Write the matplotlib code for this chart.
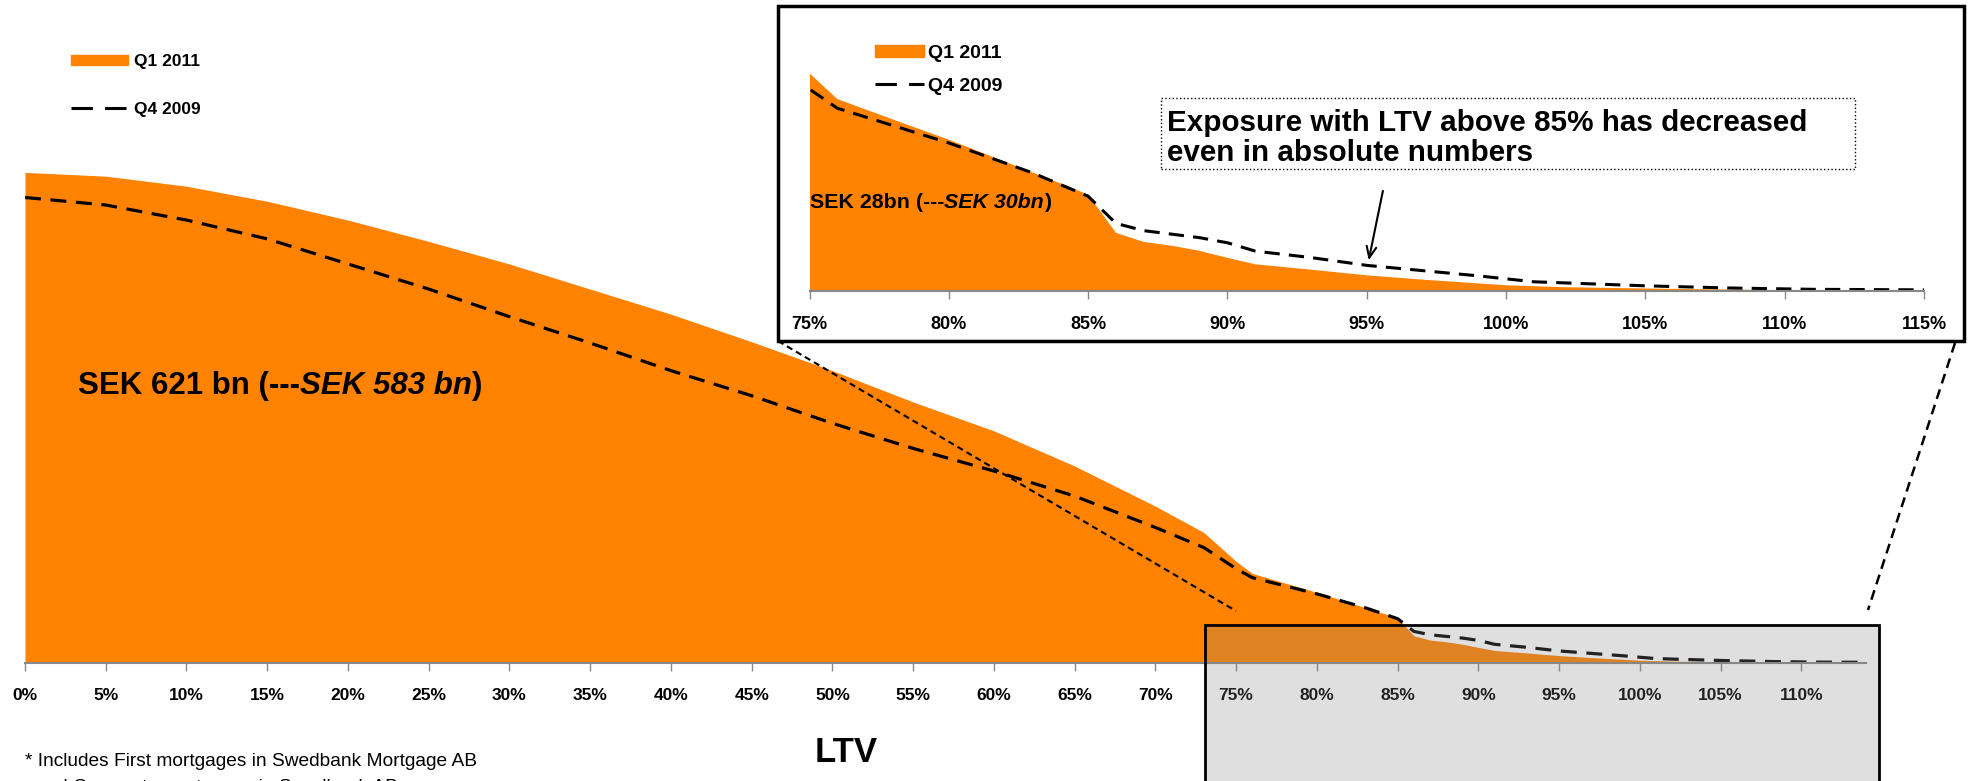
import matplotlib.pyplot as plt
from matplotlib.patches import Rectangle, Patch
from matplotlib.lines import Line2D

plt.rcParams['font.family'] = ['Liberation Sans', 'DejaVu Sans']

# LTV buckets (%) and exposure (relative units)
ltv_q1 = [0, 5, 10, 15, 20, 25, 30, 35, 40, 45, 50, 55, 60, 65, 70, 73,
          75, 76, 78, 80, 82, 84, 85, 86, 87, 88, 89, 90, 91, 93, 95, 97,
          100, 102, 105, 108, 110, 115]
exp_q1 = [391, 388, 380, 368, 353, 336, 318, 298, 278, 256, 233, 208, 185, 157, 125, 104,
          81.0, 71.4, 63.8, 56.3, 48.2, 40.1, 35.9, 21.7, 18.3, 16.9, 15.0, 12.4, 10.0, 8.0, 5.9, 4.3,
          2.2, 1.5, 1.0, 0.6, 0.4, 0.0]

ltv_q4 = [0, 5, 10, 15, 20, 25, 30, 35, 40, 45, 50, 55, 60, 65, 70, 73,
          75, 76, 80, 83, 85, 86, 87, 89, 90, 91, 93, 95, 99, 101,
          105, 108, 111, 115]
exp_q4 = [371, 365, 353, 338, 318, 298, 276, 255, 233, 213, 191, 171, 153, 133, 108, 92,
          75.1, 68.0, 55.1, 44.0, 35.3, 25.2, 22.5, 19.9, 18.0, 14.9, 12.5, 9.6, 5.7, 3.5,
          2.0, 1.2, 0.7, 0.5]

main_ticks = list(range(0, 111, 5))
inset_ticks = list(range(75, 116, 5))
series_names = ['Q1 2011', 'Q4 2009']

ORANGE = '#FF8200'
W, H = 1968, 781

fig = plt.figure(figsize=(W / 100, H / 100), dpi=100)

# main chart
ax = fig.add_axes([25 / W, 118 / H, 1841 / W, 527 / H])
ax.set_facecolor('none')
ax.fill_between(ltv_q1, 0, exp_q1, color=ORANGE, lw=0)
ax.plot(ltv_q4, exp_q4, color='black', lw=2.3, dashes=(5, 3))
ax.set_xlim(0, 114)
ax.set_ylim(0, 420)
ax.set_xticks(main_ticks)
ax.set_xticklabels([f'{t}%' for t in main_ticks], fontweight='bold', fontsize=12.5)
ax.tick_params(axis='x', length=6, color='#888888', width=1, pad=12)
ax.set_yticks([])
for s in ['top', 'left', 'right']:
    ax.spines[s].set_visible(False)
ax.spines['bottom'].set_color('#888888')
ax.spines['bottom'].set_linewidth(1.5)

# zoomed chart
axi = fig.add_axes([809.5 / W, 1 - 291.2 / H, 1114.5 / W, 255.6 / H])
axi.set_facecolor('none')
axi.fill_between(ltv_q1, 0, exp_q1, color=ORANGE, lw=0)
axi.plot(ltv_q4, exp_q4, color='black', lw=2.2, dashes=(5, 3))
axi.set_xlim(75, 115)
axi.set_ylim(0, 95)
axi.set_xticks(inset_ticks)
axi.set_xticklabels([f'{t}%' for t in inset_ticks], fontweight='bold', fontsize=13)
axi.tick_params(axis='x', length=6, color='#888888', width=1, pad=12)
axi.set_yticks([])
for s in ['top', 'left', 'right']:
    axi.spines[s].set_visible(False)
axi.spines['bottom'].set_color('#888888')
axi.spines['bottom'].set_linewidth(1.5)

fig.add_artist(Rectangle((778 / W, 1 - 341 / H), 1186 / W, 335 / H, transform=fig.transFigure,
                         fill=False, ec='black', lw=2.5, zorder=3))

# legends
handles = [Patch(color=ORANGE), Line2D([], [], color='black', lw=2.2, dashes=(7, 4))]
fig.legend(handles, series_names, loc='upper left', bbox_to_anchor=(71 / W, 1 - 54 / H),
           frameon=False, handlelength=3.3, handleheight=0.55, handletextpad=0.3,
           labelspacing=1.9, borderpad=0, borderaxespad=0,
           prop={'weight': 'bold', 'size': 12.5})
fig.legend(handles, series_names, loc='upper left', bbox_to_anchor=(875 / W, 1 - 45 / H),
           frameon=False, handlelength=2.5, handleheight=0.55, handletextpad=0.2,
           labelspacing=0.8, borderpad=0, borderaxespad=0,
           prop={'weight': 'bold', 'size': 14})

# total labels
t1 = fig.text(78 / W, 1 - 386 / H, 'SEK 621 bn (---', fontsize=22.5, fontweight='bold', va='center')
a2 = ax.annotate('SEK 583 bn', xy=(1, 0), xycoords=t1, va='bottom', ha='left',
                 fontsize=22.5, fontweight='bold', style='italic')
ax.annotate(')', xy=(1, 0), xycoords=a2, va='bottom', ha='left', fontsize=22.5, fontweight='bold')

s1 = fig.text(810 / W, 1 - 202 / H, 'SEK 28bn (---', fontsize=15.4, fontweight='bold', va='center')
s2 = axi.annotate('SEK 30bn', xy=(1, 0), xycoords=s1, va='bottom', ha='left',
                  fontsize=15.4, fontweight='bold', style='italic')
axi.annotate(')', xy=(1, 0), xycoords=s2, va='bottom', ha='left', fontsize=15.4, fontweight='bold')

# call-out
fig.add_artist(Rectangle((1161 / W, 1 - 169 / H), 694 / W, 71 / H, transform=fig.transFigure,
                         fill=False, ec='black', lw=1, ls=':', zorder=3))
fig.text(1167 / W, 1 - 138 / H, 'Exposure with LTV above 85% has decreased\neven in absolute numbers',
         fontsize=21.3, fontweight='bold', va='center', linespacing=1.05)
axi.annotate('', xy=(95.05, 10.5), xytext=(95.6, 38.3),
             arrowprops=dict(arrowstyle='->,head_length=0.8,head_width=0.35', lw=1.5, color='black'))

# zoom box and connectors
fig.add_artist(Rectangle((1205 / W, -0.05), 674 / W, 0.05 + 156 / H, transform=fig.transFigure,
                         fc=(0.52, 0.52, 0.52, 0.26), ec='black', lw=2, zorder=4))
fig.add_artist(Line2D([778 / W, 1236 / W], [1 - 341 / H, 1 - 611 / H], transform=fig.transFigure,
                      color='black', lw=1.5, dashes=(3, 2), zorder=4))
fig.add_artist(Line2D([1955 / W, 1868 / W], [1 - 343 / H, 1 - 610 / H], transform=fig.transFigure,
                      color='black', lw=1.8, dashes=(4, 2.5), zorder=4))

fig.text(846 / W, 1 - 752 / H, 'LTV', fontsize=25, fontweight='bold', ha='center', va='center')
fig.text(25 / W, 1 - 761 / H, '* Includes First mortgages in Swedbank Mortgage AB',
         fontsize=13.8, va='center')
fig.text(25 / W, 1 - 779 / H, '  and Corporate mortgages in Swedbank AB', fontsize=13.8, va='top')

fig.savefig('out.png', dpi=100)
